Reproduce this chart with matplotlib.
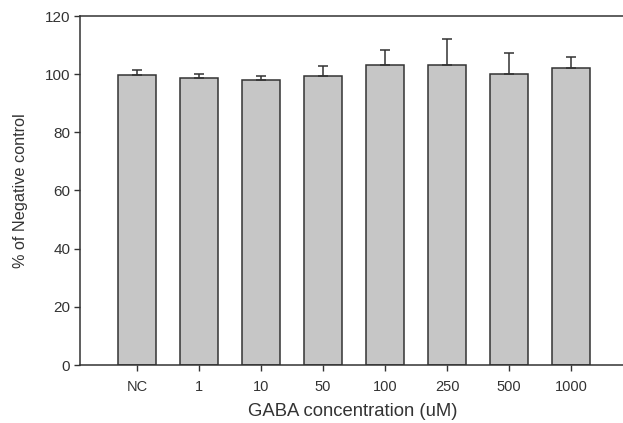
import matplotlib
matplotlib.use("Agg")
import matplotlib.pyplot as plt

categories = ["NC", "1", "10", "50", "100", "250", "500", "1000"]
values = [99.8, 98.7, 98.0, 99.4, 103.3, 103.3, 100.1, 102.1]
errors = [1.8, 1.5, 1.4, 3.5, 5.1, 8.7, 7.1, 3.9]
yticks = [0, 20, 40, 60, 80, 100, 120]

plt.rcParams['font.family'] = ['Liberation Sans', 'DejaVu Sans']
fig = plt.figure(figsize=(6.23, 4.23), dpi=100)
W, H = 623, 423
ax = fig.add_axes([80 / W, (H - 365) / H, (626 - 80) / W, (365 - 16) / H])

x = list(range(1, len(categories) + 1))
dark = "#333333"
ax.bar(x, values, width=0.62, color="#c6c6c6", edgecolor=dark, linewidth=1.1, zorder=2)
ax.errorbar(x, values, yerr=[[0] * len(errors), errors], fmt="none", ecolor=dark,
            elinewidth=1.1, capsize=3.8, capthick=1.1, zorder=3)

ax.set_ylim(0, 120)
ax.set_xlim(1 - 57 / 62, 1 + (626 - 137) / 62)
ax.set_yticks(yticks)
ax.set_xticks(x)
ax.set_xticklabels(categories)
for s in ax.spines.values():
    s.set_color(dark)
    s.set_linewidth(1.1)
ax.tick_params(axis="y", direction="out", length=4, width=1, color=dark, labelsize=11, labelcolor="#333333", pad=3)
ax.tick_params(axis="x", direction="out", length=4, width=1, color=dark, labelsize=10.5, labelcolor="#333333", pad=7)
ax.set_ylabel("% of Negative control", fontsize=11.7, color="#333333", labelpad=12)
ax.set_xlabel("GABA concentration (uM)", fontsize=13.3, color="#333333", labelpad=6)

fig.savefig("out.png", dpi=100)
